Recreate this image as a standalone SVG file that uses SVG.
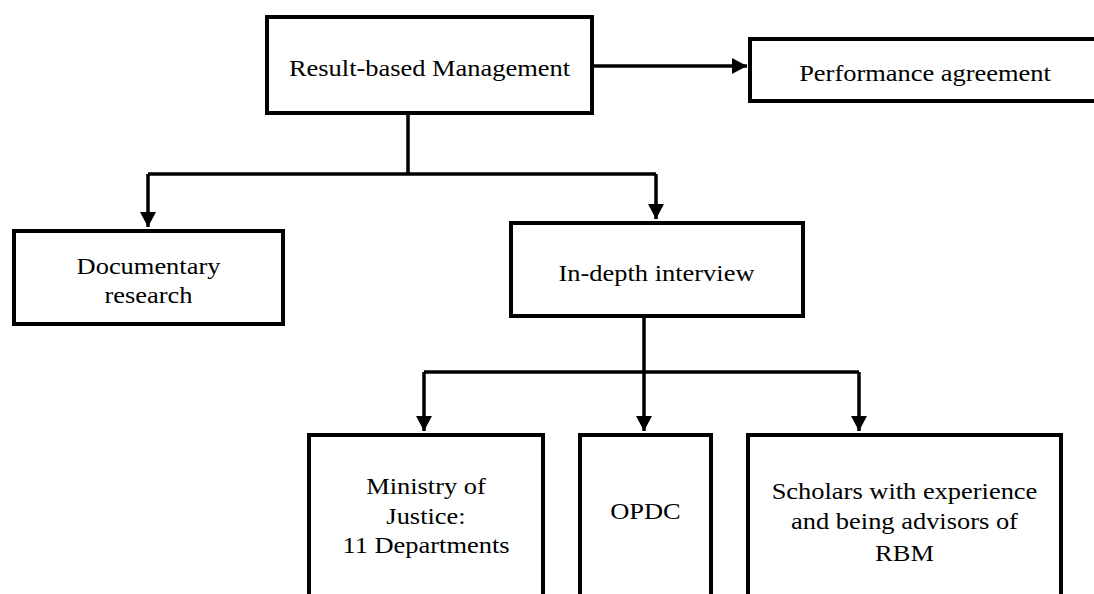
<svg xmlns="http://www.w3.org/2000/svg" width="1094" height="594" viewBox="0 0 1094 594">
  <style>
    .box { fill: #ffffff; stroke: #000000; stroke-width: 4; }
    .wire { fill: none; stroke: #000000; stroke-width: 3.5; }
    .label { font-size: 23px; fill: #000000; text-anchor: middle; }
  </style>
  <defs>
    <marker id="head" viewBox="0 0 15 16" refX="15" refY="8" markerWidth="15" markerHeight="16" markerUnits="userSpaceOnUse" orient="auto">
      <path d="M0,0 L15,8 L0,16 Z" fill="#000000"/>
    </marker>
  </defs>
  <rect width="1094" height="594" fill="#ffffff"/>

  <!-- connectors -->
  <g id="connectors">
    <path class="wire" d="M594,66 H747" marker-end="url(#head)"/>
    <path class="wire" d="M408,115 V174"/>
    <path class="wire" d="M148,174 H656"/>
    <path class="wire" d="M148,174 V227" marker-end="url(#head)"/>
    <path class="wire" d="M656,174 V219" marker-end="url(#head)"/>
    <path class="wire" d="M644,318 V372"/>
    <path class="wire" d="M424,372 H859"/>
    <path class="wire" d="M424,372 V431" marker-end="url(#head)"/>
    <path class="wire" d="M644,372 V431" marker-end="url(#head)"/>
    <path class="wire" d="M859,372 V431" marker-end="url(#head)"/>
  </g>

  <g font-family="'Liberation Serif', 'Times New Roman', serif">
    <g id="rbm">
      <rect class="box" x="267" y="17" width="325" height="96"/>
      <text class="label" transform="translate(429.5,76) scale(1.15,1)">Result-based Management</text>
    </g>

    <g id="performance-agreement">
      <rect class="box" x="750" y="39" width="360" height="62"/>
      <text class="label" transform="translate(925,81) scale(1.15,1)">Performance agreement</text>
    </g>

    <g id="documentary-research">
      <rect class="box" x="14" y="231" width="269" height="93"/>
      <text class="label" transform="translate(148.5,274) scale(1.15,1)"><tspan x="0" y="0">Documentary</tspan><tspan x="0" y="29">research</tspan></text>
    </g>

    <g id="in-depth-interview">
      <rect class="box" x="511" y="223" width="292" height="93"/>
      <text class="label" transform="translate(656.5,281) scale(1.15,1)">In-depth interview</text>
    </g>

    <g id="ministry-of-justice">
      <rect class="box" x="309" y="435" width="234" height="200"/>
      <text class="label" transform="translate(426,494) scale(1.15,1)"><tspan x="0" y="0">Ministry of</tspan><tspan x="0" y="30">Justice:</tspan><tspan x="0" y="59">11 Departments</tspan></text>
    </g>

    <g id="opdc">
      <rect class="box" x="580" y="435" width="131" height="200"/>
      <text class="label" transform="translate(645.5,519) scale(1.15,1)">OPDC</text>
    </g>

    <g id="scholars">
      <rect class="box" x="748" y="435" width="313" height="200"/>
      <text class="label" transform="translate(904.5,499) scale(1.15,1)"><tspan x="0" y="0">Scholars with experience</tspan><tspan x="0" y="30">and being advisors of</tspan><tspan x="0" y="62">RBM</tspan></text>
    </g>
  </g>
</svg>
